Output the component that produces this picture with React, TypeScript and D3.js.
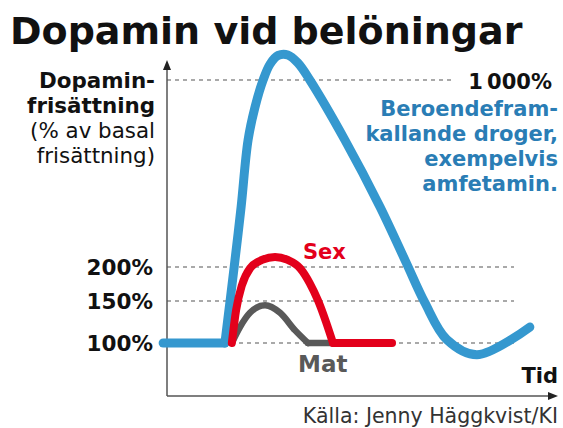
import React from "react";
import * as d3 from "d3";

// ---- data (time in arbitrary units 0..100, dopamine as % of basal) ----
const tickValues = [100, 150, 200, 1000];
const tickLabels = ["100%", "150%", "200%", "1\u2009000%"];
const guideValues = [100, 150, 200];

const drugFlat: [number, number][] = [
  [-1, 100],
  [15.0, 100],
];
const drugCurve: [number, number][] = [
  [15.0, 100],
  [17.4, 200],
  [19.2, 457],
  [21.0, 743],
  [22.8, 884],
  [24.9, 1000],
  [26.7, 1068],
  [28.8, 1105],
  [31.3, 1107],
  [33.9, 1073],
  [37.0, 1000],
  [46.1, 743],
  [55.2, 457],
  [61.9, 221],
  [66.8, 148],
  [72.5, 104],
  [80.3, 86],
  [94.0, 119],
];
const sexCurve: [number, number][] = [
  [16.8, 100],
  [17.9, 139],
  [19.4, 173],
  [21.5, 198],
  [24.6, 230],
  [28.0, 243],
  [31.3, 230],
  [34.5, 198],
  [37.0, 176],
  [39.1, 151],
  [41.2, 125],
  [43.0, 100],
];
const sexFlat: [number, number][] = [
  [43.0, 100],
  [58.3, 100],
];
const foodCurve: [number, number][] = [
  [16.8, 100],
  [18.9, 119],
  [21.5, 136],
  [25.4, 145],
  [29.3, 136],
  [33.2, 115],
  [36.5, 100],
];
const foodFlat: [number, number][] = [
  [36.5, 100],
  [43.0, 100],
];

const title = "Dopamin vid belöningar";
const yTitleBold = ["Dopamin-", "frisättning"];
const yTitleNormal = ["(% av basal", "frisättning)"];
const drugLabel = ["Beroendefram-", "kallande droger,", "exempelvis", "amfetamin."];
const source = "Källa: Jenny Häggkvist/KI";

const FONT = "'DejaVu Sans', 'Open Sans', sans-serif";
const BLUE = "#3598cf";
const BLUE_TEXT = "#2a7db5";
const RED = "#e3001b";
const GRAY = "#595959";

export default function App() {
  const x = d3.scaleLinear().domain([0, 100]).range([167, 553]);
  const y = d3
    .scaleLinear()
    .domain([100, 150, 200, 1000])
    .range([343, 301, 267, 80]);

  const smooth = d3
    .line<[number, number]>()
    .x((d) => x(d[0]))
    .y((d) => y(d[1]))
    .curve(d3.curveMonotoneX);
  const drugLine = d3
    .line<[number, number]>()
    .x((d) => x(d[0]))
    .y((d) => y(d[1]))
    .curve(d3.curveCatmullRom.alpha(0.5));
  const straight = d3
    .line<[number, number]>()
    .x((d) => x(d[0]))
    .y((d) => y(d[1]));

  const axisX0 = 167;
  const axisY0 = 396;

  return (
    <svg
      width={563}
      height={428}
      style={{ position: "absolute", left: 0, top: 0, display: "block", background: "#fff" }}
      fontFamily={FONT}
    >
      <rect width={563} height={428} fill="#fff" />
      <text x={10} y={44} fontSize={38} fontWeight={700} fill="#111">
        {title}
      </text>

      {/* guides */}
      {guideValues.map((v) => (
        <line
          key={v}
          x1={axisX0}
          x2={514}
          y1={y(v)}
          y2={y(v)}
          stroke="#555"
          strokeWidth={1.1}
          strokeDasharray="4 4"
        />
      ))}
      <line
        x1={axisX0}
        x2={454}
        y1={y(1000)}
        y2={y(1000)}
        stroke="#555"
        strokeWidth={1.1}
        strokeDasharray="4 4"
      />

      {/* axes */}
      <line x1={axisX0} x2={axisX0} y1={axisY0} y2={66} stroke="#555" strokeWidth={1.5} />
      <path d={`M${axisX0},60 L${axisX0 - 4},70 L${axisX0 + 4},70 Z`} fill="#222" />
      <line x1={axisX0} x2={551} y1={axisY0} y2={axisY0} stroke="#555" strokeWidth={1.5} />
      <path d={`M558,${axisY0} L548,${axisY0 - 4} L548,${axisY0 + 4} Z`} fill="#222" />

      {/* tick labels */}
      {tickValues.slice(0, 3).map((v, i) => (
        <text
          key={v}
          x={153}
          y={y(v) + 7.5}
          textAnchor="end"
          fontSize={21.5}
          fontWeight={700}
          fill="#111"
        >
          {tickLabels[i]}
        </text>
      ))}
      <text x={552} y={y(1000) + 9} textAnchor="end" fontSize={21} fontWeight={700} fill="#111">
        {tickLabels[3]}
      </text>

      {/* y title */}
      {yTitleBold.map((s, i) => (
        <text key={s} x={155} y={88 + i * 25} textAnchor="end" fontSize={21.4} fontWeight={700} fill="#111">
          {s}
        </text>
      ))}
      {yTitleNormal.map((s, i) => (
        <text key={s} x={155} y={138 + i * 25} textAnchor="end" fontSize={21.4} fontWeight={400} fill="#111">
          {s}
        </text>
      ))}

      {/* drug label */}
      {drugLabel.map((s, i) => (
        <text
          key={s}
          x={558}
          y={116 + i * 25}
          textAnchor="end"
          fontSize={21}
          fontWeight={700}
          fill={BLUE_TEXT}
        >
          {s}
        </text>
      ))}

      {/* lines */}
      <path d={straight(drugFlat)!} fill="none" stroke={BLUE} strokeWidth={9} strokeLinecap="round" />
      <path
        d={drugLine(drugCurve)!}
        fill="none"
        stroke={BLUE}
        strokeWidth={9}
        strokeLinecap="round"
        strokeLinejoin="round"
      />
      <path d={straight(foodFlat)!} fill="none" stroke={GRAY} strokeWidth={6.5} strokeLinecap="round" />
      <path d={smooth(foodCurve)!} fill="none" stroke={GRAY} strokeWidth={6.5} strokeLinecap="round" />
      <path d={smooth(sexCurve)!} fill="none" stroke={RED} strokeWidth={8} strokeLinecap="round" />
      <path d={straight(sexFlat)!} fill="none" stroke={RED} strokeWidth={8} strokeLinecap="round" />

      {/* series labels */}
      <text x={303} y={259} fontSize={21} fontWeight={700} fill={RED}>
        Sex
      </text>
      <text x={298} y={372} fontSize={23} fontWeight={700} fill={GRAY}>
        Mat
      </text>
      <text x={558} y={383} textAnchor="end" fontSize={21} fontWeight={700} fill="#111">
        Tid
      </text>
      <text x={558} y={423} textAnchor="end" fontSize={20.5} fontWeight={400} fill="#333">
        {source}
      </text>
    </svg>
  );
}
